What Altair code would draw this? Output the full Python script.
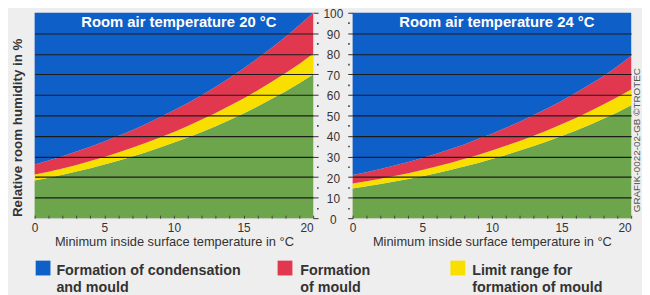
import altair as alt
import pandas as pd

# ---------------- data ----------------
surface_temp = list(range(0, 21))

# Room air 20 °C : boundaries of the coloured bands (relative humidity %)
rh20_condensation = [26.1, 28.1, 30.2, 32.4, 34.8, 37.3, 40.0, 42.8, 45.9, 49.1, 52.5,
                     56.1, 59.9, 64.0, 68.3, 72.9, 77.7, 82.8, 88.2, 93.9, 100.0]
rh20_mould = [21.2, 22.6, 24.2, 25.9, 27.8, 29.8, 32.0, 34.3, 36.7, 39.3, 42.0,
              44.9, 48.0, 51.2, 54.7, 58.3, 62.2, 66.3, 70.6, 75.1, 80.0]
rh20_limit = [18.4, 19.7, 21.1, 22.7, 24.3, 26.1, 28.0, 30.0, 32.1, 34.4, 36.8,
              39.3, 42.0, 44.8, 47.8, 51.0, 54.4, 58.0, 61.7, 65.7, 70.0]

# Room air 24 °C
rh24_condensation = [21.0, 22.4, 23.9, 25.6, 27.4, 29.3, 31.4, 33.6, 35.9, 38.5, 41.1,
                     44.0, 47.0, 50.2, 53.5, 57.1, 60.9, 64.9, 69.1, 73.8, 79.0]
rh24_mould = [16.9, 18.0, 19.2, 20.5, 21.9, 23.4, 25.1, 26.9, 28.8, 30.8, 32.9,
              35.2, 37.6, 40.1, 42.8, 45.7, 48.7, 51.9, 55.3, 58.9, 62.7]
rh24_limit = [14.5, 15.5, 16.6, 17.8, 19.1, 20.4, 21.9, 23.5, 25.2, 26.9, 28.8,
              30.8, 32.9, 35.1, 37.4, 40.0, 42.6, 45.4, 48.4, 51.5, 55.0]

panel_titles = ["Room air temperature 20 \u00b0C", "Room air temperature 24 \u00b0C"]
x_title = "Minimum inside surface temperature in \u00b0C"
y_title = "Relative room humidity in %"
credit = "GRAFIK-0022-02-GB \u00a9TROTEC"
legend_labels = ["Formation of condensation\nand mould", "Formation\nof mould",
                 "Limit range for\nformation of mould"]

x_ticks = list(range(0, 21))
y_ticks = list(range(0, 101, 5))

# ---------------- style ----------------
BLUE = "#0f5fc8"
RED = "#e2384f"
YELLOW = "#f8df00"
GREEN = "#6ca54c"
BG = "#eeeeee"
TXT = "#333333"
FONT = "Liberation Sans, Arial, sans-serif"
W, H = 282, 208

minor_test = "datum.value % 10 != 0"
grid_test = "datum.value % 10 == 0 && datum.value > 0 && datum.value < 100"


def y_axis(orient, labels):
    kw = dict(
        orient=orient, values=y_ticks, title=None, domain=False,
        ticks=True, tickSize=5, tickColor=TXT,
        tickWidth={"condition": {"test": minor_test, "value": 1.6}, "value": 1},
        tickDash={"condition": {"test": minor_test, "value": [0, 3.5, 1.5, 10]}, "value": []},
        grid=True, gridColor="#1c1c1c", gridWidth=1.2,
        gridOpacity={"condition": {"test": grid_test, "value": 1}, "value": 0},
        zindex=1, labels=labels, labelOverlap=False,
    )
    if labels:
        kw.update(
            labelExpr="datum.value % 10 == 0 ? datum.label : ''",
            labelAlign="center", labelPadding=15, labelFont=FONT,
            labelFontSize=12, labelColor=TXT, labelOffset=1, labelBound=False,
        )
    return alt.Axis(**kw)


x_axis = alt.Axis(
    values=x_ticks, orient="bottom", domain=False, grid=False,
    ticks=True, tickSize=3, tickColor="#444444", tickWidth=1, offset=-3,
    labelExpr="datum.value % 5 == 0 ? datum.label : ''",
    labelFlush=False, labelOverlap=False,
    labelAlign={"condition": {"test": "datum.value == 20", "value": "right"}, "value": "center"},
    labelFont=FONT, labelFontSize=12, labelColor=TXT, labelPadding=4,
    title=x_title, titleFont=FONT, titleFontSize=13, titleFontWeight="normal",
    titleColor=TXT, titlePadding=3, zindex=1,
)


def text_layer(txt, x, y, **mk):
    d = pd.DataFrame({"label": [txt]})
    return alt.Chart(d).mark_text(**mk).encode(
        text="label:N", x=alt.value(x), y=alt.value(y))


def panel(cond, mould, limit, title, yaxis, extras):
    df = pd.DataFrame({"t": surface_temp, "cond": cond, "mould": mould, "limit": limit})
    base = alt.Chart(df)
    xs = alt.Scale(domain=[0, 20], nice=False, zero=False)
    ys = alt.Scale(domain=[0, 100], nice=False)
    xe = alt.X("t:Q", scale=xs, axis=x_axis)

    def Y(f):
        return alt.Y(f, type="quantitative", scale=ys, axis=yaxis)

    green = base.mark_area(color=GREEN, opacity=1).encode(x=xe, y=Y("limit"), y2=alt.datum(0))
    yellow = base.mark_area(color=YELLOW, opacity=1).encode(x=xe, y=Y("mould"), y2="limit:Q")
    red = base.mark_area(color=RED, opacity=1).encode(x=xe, y=Y("cond"), y2="mould:Q")
    blue = base.mark_area(color=BLUE, opacity=1).encode(x=xe, y=Y("cond"), y2=alt.datum(100))
    ttl = text_layer(title, 146, 14.5, font=FONT, fontSize=15, fontWeight="bold",
                     color="white", align="center", baseline="alphabetic")
    return alt.layer(green, yellow, red, blue, ttl, *extras).properties(width=W, height=H)


# extras for left panel: y title + legend
left_extras = [
    text_layer(y_title, -16.5, 116.5, font=FONT, fontSize=13.5, fontWeight="bold",
               color=TXT, angle=270, align="center", baseline="middle"),
]
legend_colors = [BLUE, RED, YELLOW]
legend_sq_x = [1, 246, 421]
legend_txt_x = [22, 269, 443]
for lab, col, sx, tx in zip(legend_labels, legend_colors, legend_sq_x, legend_txt_x):
    sq = alt.Chart(pd.DataFrame({"label": [lab]})).mark_rect(color=col, opacity=1).encode(
        x=alt.value(sx), x2=alt.value(sx + 15), y=alt.value(251), y2=alt.value(266))
    left_extras.append(sq)
    left_extras.append(text_layer(lab, tx, 265.5, font=FONT, fontSize=14.5, fontWeight="bold",
                                  color=TXT, align="left", baseline="alphabetic",
                                  lineBreak="\n", lineHeight=17.5))

right_extras = [
    text_layer(credit, 287.5, 129, font=FONT, fontSize=10, color="#555555",
               angle=270, align="center", baseline="middle"),
]

left = panel(rh20_condensation, rh20_mould, rh20_limit, panel_titles[0],
             y_axis("right", False), left_extras)
right = panel(rh24_condensation, rh24_mould, rh24_limit, panel_titles[1],
              y_axis("left", True), right_extras)

chart = alt.hconcat(left, right, spacing=40, bounds="flush").properties(
    padding={"left": 2, "top": -3, "right": 0, "bottom": 0}
).configure_view(stroke=None).configure(background=BG)

chart.save("out.html", embed_options={"renderer": "svg", "actions": False})
